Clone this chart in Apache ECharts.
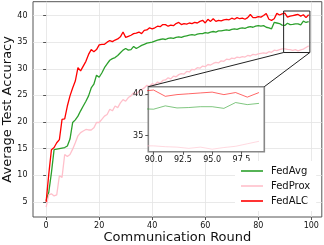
<!DOCTYPE html>
<html>
<head>
<meta charset="utf-8">
<script src="https://cdn.jsdelivr.net/npm/echarts@6/dist/echarts.min.js"></script>
<style>html,body{margin:0;padding:0;background:#fff;}#c{width:324px;height:245px;}</style>
</head>
<body>
<div id="c"></div>
<script>
const rounds = Array.from({length: 100}, (_, i) => i);
const fedAvg = [5.2,6.8,10.5,14.8,14.9,15.0,15.1,15.2,15.5,16.8,
19.9,20.4,21.1,22.1,23.0,23.9,24.9,26.4,27.1,28.8,
28.4,29.2,30.2,30.9,31.6,31.9,32.1,32.5,33.0,33.5,
33.8,33.5,33.6,34.2,33.8,34.1,34.4,34.6,34.8,34.9,
35.0,35.2,35.4,35.5,35.6,35.5,35.7,35.8,35.7,35.9,
36.0,35.9,36.1,36.2,36.3,36.4,36.3,36.5,36.6,36.6,
36.8,36.7,36.9,37.0,36.9,37.1,37.1,37.2,37.3,37.2,
37.4,37.5,37.4,37.6,37.7,37.6,37.8,37.9,37.8,38.0,
38.1,38.0,38.1,37.8,37.7,37.5,38.7,38.6,38.5,38.2,
38.15,38.55,38.3,38.35,38.45,38.45,38.25,38.95,38.7,38.85];
const fedProx = [4.0,6.3,6.5,6.1,6.3,9.9,9.6,13.9,13.5,13.9,
14.9,16.1,17.4,18.0,18.3,18.6,18.5,18.5,18.9,19.9,
19.9,20.5,21.1,21.4,22.4,22.1,23.0,22.7,23.6,24.2,
23.9,24.6,24.9,25.5,25.2,25.8,26.1,26.4,26.9,26.7,
27.2,27.0,27.5,27.3,27.8,27.9,28.3,28.1,28.6,28.5,
28.9,29.1,29.0,29.5,29.4,29.9,29.8,30.2,30.1,30.5,
30.4,30.8,30.7,31.0,31.2,31.1,31.5,31.4,31.8,31.7,
32.0,31.9,32.2,32.1,32.3,32.2,32.5,32.4,32.7,32.6,
32.8,32.9,33.0,32.9,33.2,33.1,33.5,33.4,33.6,33.75,
33.75,33.65,33.6,33.45,33.6,33.35,33.55,33.7,34.0,34.3];
const fedALC = [5.0,10.2,14.8,15.2,16.1,16.7,20.5,20.6,23.0,24.9,
26.4,27.7,30.2,29.6,30.5,31.4,32.7,33.6,33.2,33.6,
34.5,34.6,34.6,35.0,35.3,35.1,35.4,35.6,36.0,36.9,
35.9,36.1,36.3,36.6,36.7,36.9,36.6,37.2,37.3,37.7,
37.5,37.7,38.0,37.9,38.3,38.3,38.0,38.2,38.1,38.5,
38.7,38.3,38.5,38.4,38.6,38.5,38.7,38.6,38.9,39.1,
38.6,39.3,38.9,39.4,38.9,39.1,39.0,39.2,39.3,39.2,
39.5,39.3,39.6,39.4,39.5,39.3,39.6,40.2,39.6,39.6,
39.8,39.7,40.0,40.4,39.3,39.1,39.4,40.4,40.1,40.3,
40.45,39.7,39.9,40.0,40.1,40.2,39.9,40.15,39.6,40.15];
const seriesNames = ['FedAvg', 'FedProx', 'FedALC'];
const seriesColors = ['#2ca02c', '#ffc0cb', '#ff0000'];
const seriesValues = [fedAvg, fedProx, fedALC];
const mainXTicks = [0, 20, 40, 60, 80, 100];
const mainYTicks = [5, 10, 15, 20, 25, 30, 35, 40];
const insetXTicks = [90, 92.5, 95, 97.5];
const insetYTicks = [35, 40];
const mainXRange = [-4.95, 103.95];
const mainYRange = [2.15, 42.6];
const insetXRange = [89.55, 99.45];
const insetYRange = [33.05, 40.85];

const FONT = 'DejaVu Sans';
const chart = echarts.init(document.getElementById('c'), null, {renderer: 'canvas'});
const pairs = v => rounds.map((r, i) => [r, v[i]]);

const series = [];
seriesValues.forEach((v, k) => {
  series.push({
    name: seriesNames[k], type: 'line', xAxisIndex: 0, yAxisIndex: 0,
    data: pairs(v), showSymbol: false, symbol: 'none', z: 2 + k,
    lineStyle: {color: seriesColors[k], width: 1.3}, itemStyle: {color: seriesColors[k]},
    animation: false
  });
});
seriesValues.forEach((v, k) => {
  series.push({
    name: seriesNames[k], type: 'line', xAxisIndex: 1, yAxisIndex: 1,
    data: pairs(v), showSymbol: false, symbol: 'none', z: 20 + k, clip: true,
    lineStyle: {color: seriesColors[k], width: 1, opacity: 0.6}, itemStyle: {color: seriesColors[k]},
    animation: false, legendHoverLink: false
  });
});
// zoom box on the main axes, from the inset limits
series.push({
  type: 'line', xAxisIndex: 0, yAxisIndex: 0, silent: true, z: 8,
  data: [[insetXRange[0], insetYRange[0]], [insetXRange[1], insetYRange[0]], [insetXRange[1], insetYRange[1]], [insetXRange[0], insetYRange[1]], [insetXRange[0], insetYRange[0]]],
  showSymbol: false, symbol: 'none', lineStyle: {color: '#222', width: 1}, animation: false
});

const tickLabel = {fontFamily: FONT, fontSize: 8, color: '#111'};
chart.setOption({
  animation: false,
  backgroundColor: '#fff',
  textStyle: {fontFamily: FONT},
  grid: [
    {left: 33, right: 2.2, top: 1.7, bottom: 28, show: true, borderColor: '#555', borderWidth: 1, backgroundColor: 'transparent', z: 0, outerBoundsMode: 'none', containLabel: false},
    {left: 148.3, top: 86.7, width: 116, height: 65, show: true, borderColor: '#888', borderWidth: 1.6, backgroundColor: '#fff', z: 15, outerBoundsMode: 'none', containLabel: false}
  ],
  xAxis: [
    {type: 'value', gridIndex: 0, min: mainXRange[0], max: mainXRange[1],
     name: 'Communication Round', nameLocation: 'middle', nameGap: 14, nameMoveOverlap: false,
     nameTextStyle: {fontFamily: FONT, fontSize: 13, color: '#111'},
     axisLine: {show: false}, axisTick: {show: true, length: 3, inside: false, customValues: mainXTicks, lineStyle: {color: '#555'}},
     axisLabel: Object.assign({customValues: mainXTicks, margin: 4.5}, tickLabel),
     splitLine: {show: true, lineStyle: {color: '#e3e3e3', width: 0.8}}},
    {type: 'value', gridIndex: 1, min: insetXRange[0], max: insetXRange[1], z: 16,
     axisLine: {show: false}, axisTick: {show: true, length: 3, customValues: insetXTicks, lineStyle: {color: '#555'}},
     axisLabel: Object.assign({customValues: insetXTicks, margin: 4.5, formatter: v => v.toFixed(1)}, tickLabel),
     splitLine: {show: false}}
  ],
  yAxis: [
    {type: 'value', gridIndex: 0, min: mainYRange[0], max: mainYRange[1],
     name: 'Average Test Accuracy', nameLocation: 'middle', nameGap: 19, nameMoveOverlap: false,
     nameTextStyle: {fontFamily: FONT, fontSize: 13, color: '#111'},
     axisLine: {show: false}, axisTick: {show: true, length: 3, customValues: mainYTicks, lineStyle: {color: '#555'}},
     axisLabel: Object.assign({customValues: mainYTicks, margin: 5.5}, tickLabel),
     splitLine: {show: true, lineStyle: {color: '#e3e3e3', width: 0.8}}},
    {type: 'value', gridIndex: 1, min: insetYRange[0], max: insetYRange[1], z: 16,
     axisLine: {show: false}, axisTick: {show: true, length: 3, customValues: insetYTicks, lineStyle: {color: '#555'}},
     axisLabel: Object.assign({customValues: insetYTicks, margin: 5}, tickLabel),
     splitLine: {show: false}}
  ],
  legend: {
    data: seriesNames, orient: 'vertical', left: 235, top: 161,
    icon: 'rect', itemWidth: 22, itemHeight: 1.6, itemGap: 3,
    padding: [4, 6, 4, 6], backgroundColor: '#fff', z: 30,
    textStyle: {fontFamily: FONT, fontSize: 10, color: '#111', lineHeight: 12, padding: [0, 0, 0, 3]}
  },
  series: series
});

function drawConnectors() {
  const a = chart.convertToPixel({xAxisIndex: 0, yAxisIndex: 0}, [insetXRange[0], insetYRange[0]]);
  const b = chart.convertToPixel({xAxisIndex: 0, yAxisIndex: 0}, [insetXRange[1], insetYRange[0]]);
  const c = chart.convertToPixel({xAxisIndex: 1, yAxisIndex: 1}, [insetXRange[0], insetYRange[1]]);
  const d = chart.convertToPixel({xAxisIndex: 1, yAxisIndex: 1}, [insetXRange[1], insetYRange[1]]);
  chart.setOption({graphic: [
    {type: 'line', z: 25, silent: true, shape: {x1: a[0], y1: a[1], x2: c[0], y2: c[1]}, style: {stroke: '#222', lineWidth: 1}},
    {type: 'line', z: 25, silent: true, shape: {x1: b[0], y1: b[1], x2: d[0], y2: d[1]}, style: {stroke: '#222', lineWidth: 1}}
  ]});
}
drawConnectors();
</script>
</body>
</html>
